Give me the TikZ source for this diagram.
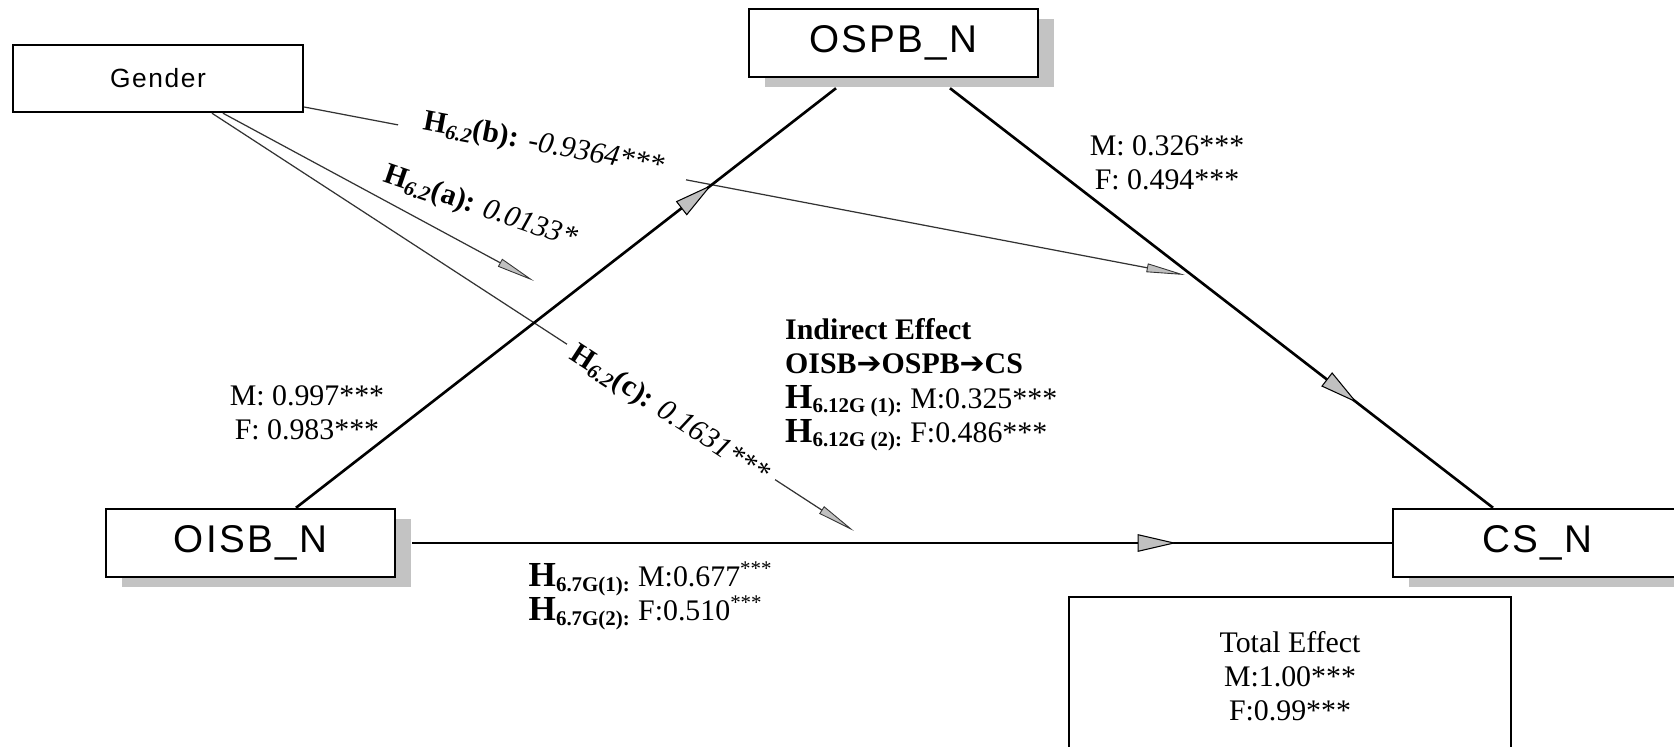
\documentclass[tikz,border=0pt]{standalone}
\usepackage{amsmath,amssymb}
\usepackage{fontspec}
\setmainfont{Liberation Serif}
\newfontfamily\boxfont[LetterSpace=6]{Liberation Sans}
\newfontfamily\symfont{DejaVu Sans}
\usepackage{tikz}
\usetikzlibrary{arrows.meta,positioning,calc,shadows,decorations.markings}
\definecolor{tipgray}{HTML}{C0C0C0}
\definecolor{shadowgray}{HTML}{C3C3C3}
\definecolor{thinline}{HTML}{333333}
\newcommand{\hypo}[1]{\textbf{H\textsubscript{#1}}}
\newcommand{\bigH}[1]{\textbf{{\fontsize{20}{20}\selectfont H}\textsubscript{#1}}}
\newcommand{\harrow}{{\symfont\bfseries\char"2794}}
\tikzset{
    varbox/.style={draw,line width=1.4pt,fill=white,minimum width=5.78cm,minimum height=1.36cm,inner sep=0pt,
        font=\boxfont\fontsize{22}{26}\selectfont,
        general shadow={fill=shadowgray,shadow xshift=0.32cm,shadow yshift=-0.2cm}},
    genderbox/.style={draw,line width=1.4pt,minimum width=5.8cm,minimum height=1.34cm,inner sep=0pt,font=\boxfont\fontsize{15}{18}\selectfont},
    totalbox/.style={draw,line width=1.4pt,minimum width=8.84cm,minimum height=3.16cm,align=center,font=\fontsize{17}{19.5}\selectfont},
    lab/.style={font=\fontsize{17}{19.5}\selectfont,align=center},
    mainline/.style={line width=1.5pt},
    midarrow/.style={postaction={decorate,decoration={markings,
        mark=at position #1 with {\arrow{Triangle[length=22pt,width=10pt,fill=tipgray,line width=0.6pt]}}}}},
    gline/.style={draw=thinline,line width=0.7pt,-{Triangle[length=22pt,width=5pt,fill=tipgray,line width=0.5pt]}}
}

\begin{document}
\begin{tikzpicture}
    \useasboundingbox (0,0) rectangle (33.48,-14.92);
    % variables
    \node[genderbox] (gender) at (3.16,-1.57) {Gender};
    \node[varbox] (ospb) at (17.87,-0.86) {OSPB\_N};
    \node[varbox] (oisb) at (5.01,-10.86) {OISB\_N};
    \node[varbox] (cs) at (30.75,-10.86) {CS\_N};
    \node[totalbox,anchor=north] (total) at (25.8,-11.92) {Total Effect\\M:1.00***\\F:0.99***};
    % moderation paths from gender
    \coordinate (tipa) at (10.68,-5.62);
    \coordinate (tipb) at (23.7,-5.5);
    \coordinate (tipc) at (17.08,-10.62);
    \draw[gline] ([yshift=-0.57cm]gender.east) -- node[lab,sloped,pos=0.27,anchor=base,fill=white,inner xsep=14pt] (hb)
        {\hypo{\textit{6.2}}\textbf{(b):} \textit{-0.9364***}} (tipb);
    \draw[gline] ([xshift=1.3cm]gender.south) -- (tipa);
    \draw[gline] ([xshift=1.08cm]gender.south) -- node[lab,sloped,pos=0.715,fill=white,inner xsep=5pt,yshift=-2pt] (hc)
        {\hypo{\textit{6.2}}\textbf{(c):} \textit{0.1631***}} (tipc);
    \node[lab,rotate=-19] (ha) at (9.6,-4.16) {\hypo{\textit{6.2}}\textbf{(a):} \textit{0.0133*}};
    % main paths
    \draw[mainline,midarrow=0.77] ([xshift=0.91cm]oisb.north) -- ([xshift=-1.15cm,yshift=-0.2cm]ospb.south);
    \draw[mainline,midarrow=0.75] ([xshift=1.13cm,yshift=-0.2cm]ospb.south) -- ([xshift=-0.89cm]cs.north);
    \draw[mainline,midarrow=0.78] ([xshift=0.32cm]oisb.east) -- (cs.west);
    % coefficients
    \node[lab] (aval) at (6.14,-8.26) {M: 0.997***\\F: 0.983***};
    \node[lab] (bval) at (23.34,-3.26) {M: 0.326***\\F: 0.494***};
    \node[lab,align=left,anchor=west] (indirect) at (15.58,-7.7)
        {\textbf{Indirect Effect}\\\textbf{OISB\harrow OSPB\harrow CS}\\
         \bigH{6.12G (1):} M:0.325***\\\bigH{6.12G (2):} F:0.486***};
    \node[lab,align=left,anchor=west] (direct) at (10.45,-11.92)
        {\bigH{6.7G(1):} M:0.677\textsuperscript{***}\\\bigH{6.7G(2):} F:0.510\textsuperscript{***}};
\end{tikzpicture}
\end{document}
